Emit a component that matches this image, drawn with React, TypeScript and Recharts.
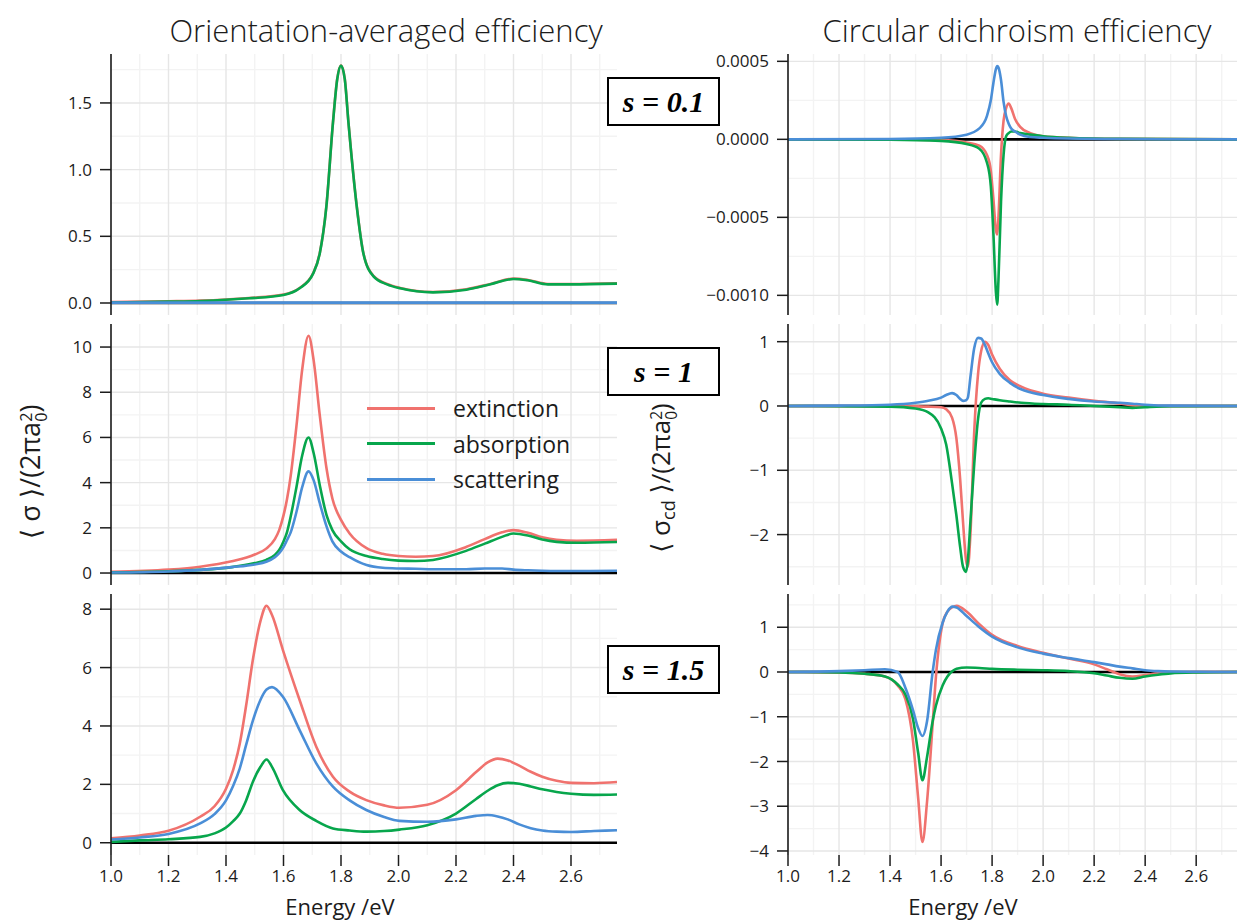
import React from "react";
import { CartesianGrid, Line, LineChart, XAxis, YAxis } from "recharts";

// series
const seriesKeys = ["ext", "abs", "sca"];
const seriesNames = ["extinction", "absorption", "scattering"];
const seriesColors = ["#F0726E", "#07A64C", "#4A8ED7"];

// x axis
const energyTicks = [1.0, 1.2, 1.4, 1.6, 1.8, 2.0, 2.2, 2.4, 2.6];
const energyMinor = [1.1, 1.3, 1.5, 1.7, 1.9, 2.1, 2.3, 2.5, 2.7];
const energyDomain = [1.0, 2.76];

// s = 0.1, orientation averaged
const aEnergy = [1.0, 1.2, 1.31, 1.48, 1.6, 1.656, 1.703, 1.726, 1.749, 1.772, 1.787, 1.8, 1.813, 1.826, 1.855, 1.878, 1.913, 1.96, 2.006, 2.12, 2.236, 2.32, 2.4, 2.45, 2.52, 2.6, 2.76];
const aExt = [0.007, 0.013, 0.018, 0.038, 0.063, 0.113, 0.223, 0.373, 0.723, 1.353, 1.683, 1.783, 1.683, 1.353, 0.723, 0.373, 0.203, 0.143, 0.113, 0.083, 0.103, 0.143, 0.183, 0.173, 0.143, 0.143, 0.148];
const aAbs = [0.004, 0.01, 0.015, 0.035, 0.06, 0.11, 0.22, 0.37, 0.72, 1.35, 1.68, 1.78, 1.68, 1.35, 0.72, 0.37, 0.2, 0.14, 0.11, 0.08, 0.1, 0.14, 0.18, 0.17, 0.14, 0.14, 0.145];
const aSca = [0.003, 0.003, 0.003, 0.003, 0.003, 0.003, 0.003, 0.003, 0.003, 0.003, 0.003, 0.003, 0.003, 0.003, 0.003, 0.003, 0.003, 0.003, 0.003, 0.003, 0.003, 0.003, 0.003, 0.003, 0.003, 0.003, 0.003];

// s = 1, orientation averaged
const bEnergy = [1.0, 1.2, 1.31, 1.42, 1.5, 1.54, 1.57, 1.585, 1.6, 1.612, 1.625, 1.645, 1.665, 1.687, 1.705, 1.726, 1.75, 1.77, 1.8, 1.83, 1.889, 1.945, 2.0, 2.06, 2.12, 2.235, 2.3, 2.36, 2.4, 2.45, 2.5, 2.55, 2.62, 2.76];
const bExt = [0.05, 0.15, 0.28, 0.52, 0.82, 1.08, 1.5, 1.9, 2.55, 3.25, 4.3, 6.5, 9.0, 10.5, 9.4, 7.0, 4.6, 3.3, 2.35, 1.75, 1.1, 0.85, 0.75, 0.72, 0.75, 1.15, 1.5, 1.8, 1.9, 1.78, 1.58, 1.47, 1.43, 1.47];
const bAbs = [0.03, 0.08, 0.14, 0.26, 0.44, 0.58, 0.8, 1.02, 1.4, 1.8, 2.5, 3.8, 5.2, 6.0, 5.3, 3.9, 2.55, 1.9, 1.4, 1.05, 0.75, 0.62, 0.55, 0.53, 0.58, 0.98, 1.3, 1.6, 1.75, 1.66, 1.48, 1.38, 1.34, 1.37];
const bSca = [0.02, 0.07, 0.14, 0.26, 0.38, 0.5, 0.7, 0.88, 1.15, 1.45, 1.8, 2.7, 3.8, 4.5, 4.1, 3.1, 2.05, 1.4, 0.95, 0.7, 0.35, 0.23, 0.2, 0.19, 0.17, 0.17, 0.2, 0.2, 0.15, 0.12, 0.1, 0.09, 0.09, 0.1];

// s = 1.5, orientation averaged
const cEnergy = [1.0, 1.1, 1.2, 1.31, 1.36, 1.4, 1.425, 1.448, 1.47, 1.494, 1.52, 1.541, 1.56, 1.598, 1.656, 1.714, 1.772, 1.83, 1.888, 1.95, 2.003, 2.1, 2.2, 2.27, 2.31, 2.345, 2.38, 2.42, 2.46, 2.5, 2.55, 2.6, 2.68, 2.76];
const cExt = [0.15, 0.25, 0.41, 0.89, 1.25, 1.85, 2.5, 3.4, 4.7, 6.3, 7.6, 8.12, 7.8, 6.6, 4.89, 3.29, 2.26, 1.75, 1.46, 1.28, 1.2, 1.3, 1.8, 2.42, 2.75, 2.88, 2.82, 2.64, 2.43, 2.26, 2.12, 2.05, 2.04, 2.08];
const cAbs = [0.03, 0.08, 0.12, 0.2, 0.32, 0.52, 0.74, 1.0, 1.45, 2.1, 2.6, 2.85, 2.6, 1.8, 1.12, 0.75, 0.49, 0.42, 0.38, 0.4, 0.45, 0.6, 1.0, 1.5, 1.78, 1.97, 2.05, 2.02, 1.93, 1.83, 1.74, 1.68, 1.64, 1.65];
const cSca = [0.11, 0.18, 0.3, 0.66, 0.98, 1.45, 1.95, 2.55, 3.35, 4.2, 4.9, 5.25, 5.33, 5.0, 3.86, 2.72, 1.92, 1.45, 1.12, 0.88, 0.75, 0.72, 0.8, 0.92, 0.95, 0.9, 0.8, 0.63, 0.5, 0.42, 0.38, 0.37, 0.4, 0.43];

// s = 0.1, circular dichroism
const aCdEnergy = [1.0, 1.4, 1.6, 1.7, 1.75, 1.78, 1.795, 1.805, 1.815, 1.82, 1.825, 1.835, 1.845, 1.855, 1.865, 1.875, 1.89, 1.91, 1.95, 2.0, 2.1, 2.3, 2.76];
const aCdExt = [0, 0, -0.000005, -0.00002, -0.00004, -0.0001, -0.0002, -0.00038, -0.00058, -0.00061, -0.0005, -0.0001, 0.00012, 0.0002, 0.00023, 0.0002, 0.00013, 0.00008, 0.00004, 0.00002, 0.00001, 0.000003, 0];
const aCdAbs = [0, -0.000002, -0.00001, -0.00003, -0.00006, -0.00015, -0.0003, -0.0006, -0.00098, -0.00106, -0.0009, -0.0004, -0.0001, 0.00002, 0.00004, 0.00005, 0.00005, 0.00004, 0.00003, 0.00002, 0.00001, 0.000003, 0];
const aCdSca = [0, 0.000002, 0.00001, 0.00003, 0.00007, 0.00015, 0.00025, 0.00036, 0.00045, 0.00047, 0.00046, 0.00038, 0.00024, 0.00015, 0.0001, 0.00007, 0.00005, 0.00003, 0.000015, 0.00001, 0.000005, 0.000002, 0];

// s = 1, circular dichroism
const bCdEnergy = [1.0, 1.2, 1.4, 1.5, 1.55, 1.6, 1.62, 1.643, 1.66, 1.675, 1.686, 1.698, 1.705, 1.715, 1.73, 1.745, 1.757, 1.772, 1.785, 1.8, 1.83, 1.87, 1.914, 2.0, 2.1, 2.2, 2.3, 2.35, 2.4, 2.5, 2.76];
const bCdExt = [0, 0, 0, -0.005, -0.01, -0.02, -0.05, -0.18, -0.5, -1.15, -1.8, -2.4, -2.5, -2.0, -0.4, 0.5, 0.85, 1.0, 0.95, 0.8, 0.58, 0.4, 0.3, 0.19, 0.13, 0.08, 0.04, 0.01, 0, 0, 0];
const bCdAbs = [0, -0.003, -0.01, -0.04, -0.1, -0.35, -0.6, -1.2, -1.7, -2.2, -2.5, -2.58, -2.4, -1.8, -0.9, -0.2, 0.05, 0.11, 0.12, 0.11, 0.09, 0.07, 0.05, 0.03, 0.02, 0, -0.02, -0.03, -0.02, -0.005, 0];
const bCdSca = [0, 0.005, 0.02, 0.05, 0.08, 0.13, 0.17, 0.2, 0.17, 0.11, 0.08, 0.09, 0.13, 0.45, 0.9, 1.06, 1.05, 0.95, 0.82, 0.68, 0.5, 0.36, 0.26, 0.17, 0.11, 0.07, 0.05, 0.035, 0.02, 0.005, 0];

// s = 1.5, circular dichroism
const cCdEnergy = [1.0, 1.2, 1.3, 1.38, 1.43, 1.46, 1.49, 1.51, 1.527, 1.545, 1.567, 1.58, 1.606, 1.625, 1.645, 1.661, 1.7, 1.75, 1.8, 1.9, 2.0, 2.1, 2.2, 2.25, 2.3, 2.35, 2.4, 2.45, 2.5, 2.6, 2.76];
const cCdExt = [0, -0.01, -0.04, -0.1, -0.3, -0.6, -1.54, -2.8, -3.8, -2.9, -1.16, -0.1, 1.09, 1.35, 1.45, 1.48, 1.35, 1.07, 0.83, 0.58, 0.43, 0.3, 0.17, 0.06, -0.05, -0.1, -0.07, -0.03, -0.01, 0, 0];
const cCdAbs = [0, -0.01, -0.04, -0.1, -0.28, -0.5, -1.05, -1.8, -2.42, -1.9, -1.1, -0.75, -0.3, -0.1, 0.02, 0.07, 0.1, 0.09, 0.07, 0.05, 0.04, 0.02, -0.03, -0.08, -0.13, -0.15, -0.1, -0.06, -0.03, -0.01, 0];
const cCdSca = [0, 0.02, 0.04, 0.06, 0, -0.35, -0.85, -1.25, -1.43, -1.1, 0, 0.5, 1.1, 1.35, 1.46, 1.44, 1.25, 1.0, 0.79, 0.55, 0.41, 0.31, 0.22, 0.17, 0.12, 0.08, 0.04, 0.02, 0.01, 0.005, 0];

// y ticks and grid
const aTicks = [0, 0.5, 1.0, 1.5];
const aMinor = [0.25, 0.75, 1.25, 1.75];
const bTicks = [0, 2, 4, 6, 8, 10];
const bMinor = [1, 3, 5, 7, 9];
const cTicks = [0, 2, 4, 6, 8];
const cMinor = [1, 3, 5, 7];
const aCdTicks = [-0.001, -0.0005, 0, 0.0005];
const aCdMinor = [-0.00075, -0.00025, 0.00025];
const bCdTicks = [-2, -1, 0, 1];
const bCdMinor = [-2.5, -1.5, -0.5, 0.5];
const cCdTicks = [-4, -3, -2, -1, 0, 1];
const cCdMinor = [-3.5, -2.5, -1.5, -0.5, 0.5, 1.5];

const sLabels = ["s = 0.1", "s = 1", "s = 1.5"];

const FONT = "'Open Sans', 'DejaVu Sans', sans-serif";
const INK = "#1c1c1c";

const rows = (energy: number[], ext: number[], abs: number[], sca: number[]) =>
  energy.map((e, i) => ({ e, ext: ext[i], abs: abs[i], sca: sca[i], z: 0 }));

const fmt = (digits: number) => (v: number) => {
  const s = Math.abs(v).toFixed(digits);
  return v < 0 && Number(s) !== 0 ? "\u2212" + s : s;
};

type PanelProps = {
  left: number;
  top: number;
  axisWidth: number;
  plotWidth: number;
  data: ReturnType<typeof rows>;
  domain: [number, number];
  ticks: number[];
  minor: number[];
  digits: number;
  showX?: boolean;
};

const PAD_TOP = 12;

function Panel({ left, top, axisWidth, plotWidth, data, domain, ticks, minor, digits, showX }: PanelProps) {
  const plotHeight = 261;
  const xh = showX ? 40 : 0;
  const tickStyle = { fontSize: 17, fontFamily: FONT, fill: INK };
  return (
    <div style={{ position: "absolute", left, top: top - PAD_TOP }}>
      <LineChart
        width={axisWidth + plotWidth + 2}
        height={plotHeight + xh + PAD_TOP}
        data={data}
        margin={{ top: PAD_TOP, right: 2, bottom: 0, left: 0 }}
      >
        <CartesianGrid stroke="#F3F3F3" strokeWidth={1.4} horizontalValues={minor} verticalValues={energyMinor} />
        <CartesianGrid stroke="#E6E6E6" strokeWidth={1.4} horizontalValues={ticks} verticalValues={energyTicks} />
        <XAxis
          dataKey="e"
          type="number"
          domain={energyDomain}
          ticks={energyTicks}
          allowDataOverflow
          hide={!showX}
          height={xh}
          axisLine={false}
          tickLine={{ stroke: INK, strokeWidth: 1.5 }}
          tickSize={11}
          tickMargin={4}
          tick={tickStyle}
          tickFormatter={fmt(1)}
          interval={0}
        />
        <YAxis
          type="number"
          domain={domain}
          ticks={ticks}
          allowDataOverflow
          width={axisWidth}
          axisLine={{ stroke: INK, strokeWidth: 1.6 }}
          tickLine={{ stroke: INK, strokeWidth: 1.5 }}
          tickSize={11}
          tickMargin={8}
          tick={tickStyle}
          tickFormatter={fmt(digits)}
          interval={0}
        />
        <Line dataKey="z" stroke="#000" strokeWidth={2.6} dot={false} isAnimationActive={false} />
        {seriesKeys.map((k, i) => (
          <Line
            key={k}
            type="monotone"
            dataKey={k}
            stroke={seriesColors[i]}
            strokeWidth={2.6}
            dot={false}
            isAnimationActive={false}
          />
        ))}
      </LineChart>
    </div>
  );
}

function StackedA0() {
  return (
    <span
      style={{
        display: "inline-block",
        fontSize: "0.6em",
        lineHeight: 0.95,
        verticalAlign: "-0.45em",
        textAlign: "center",
      }}
    >
      2
      <br />0
    </span>
  );
}

export default function App() {
  const tops = [54, 324, 594];
  const boxTops = [77, 347, 645];
  return (
    <div
      style={{
        position: "absolute",
        left: 0,
        top: 0,
        width: 1239,
        height: 921,
        overflow: "hidden",
        background: "#fff",
        fontFamily: FONT,
        color: INK,
      }}
    >
      <div style={{ position: "absolute", left: 386, top: 30, transform: "translate(-50%,-50%)", fontSize: 31, fontWeight: 300, whiteSpace: "nowrap" }}>
        Orientation-averaged efficiency
      </div>
      <div style={{ position: "absolute", left: 1017, top: 30, transform: "translate(-50%,-50%)", fontSize: 31, fontWeight: 300, whiteSpace: "nowrap" }}>
        Circular dichroism efficiency
      </div>

      <Panel left={0} top={tops[0]} axisWidth={111} plotWidth={506} data={rows(aEnergy, aExt, aAbs, aSca)} domain={[-0.09, 1.867]} ticks={aTicks} minor={aMinor} digits={1} />
      <Panel left={0} top={tops[1]} axisWidth={111} plotWidth={506} data={rows(bEnergy, bExt, bAbs, bSca)} domain={[-0.53, 11.02]} ticks={bTicks} minor={bMinor} digits={0} />
      <Panel left={0} top={tops[2]} axisWidth={111} plotWidth={506} data={rows(cEnergy, cExt, cAbs, cSca)} domain={[-0.42, 8.52]} ticks={cTicks} minor={cMinor} digits={0} showX />

      <Panel left={681} top={tops[0]} axisWidth={107} plotWidth={449} data={rows(aCdEnergy, aCdExt, aCdAbs, aCdSca)} domain={[-0.001126, 0.000547]} ticks={aCdTicks} minor={aCdMinor} digits={4} />
      <Panel left={681} top={tops[1]} axisWidth={107} plotWidth={449} data={rows(bCdEnergy, bCdExt, bCdAbs, bCdSca)} domain={[-2.784, 1.275]} ticks={bCdTicks} minor={bCdMinor} digits={0} />
      <Panel left={681} top={tops[2]} axisWidth={107} plotWidth={449} data={rows(cCdEnergy, cCdExt, cCdAbs, cCdSca)} domain={[-4.09, 1.743]} ticks={cCdTicks} minor={cCdMinor} digits={0} showX />

      {sLabels.map((s, i) => (
        <div
          key={s}
          style={{
            position: "absolute",
            left: 607,
            top: boxTops[i],
            width: 109,
            height: 45,
            border: "2.5px solid #000",
            background: "#fff",
            display: "flex",
            alignItems: "center",
            justifyContent: "center",
            fontFamily: "'Liberation Serif', 'DejaVu Serif', serif",
            fontWeight: 700,
            fontStyle: "italic",
            fontSize: 30,
            color: "#000",
            whiteSpace: "nowrap",
          }}
        >
          {s}
        </div>
      ))}

      {seriesNames.map((n, i) => (
        <div key={n} style={{ position: "absolute", left: 367, top: 408 + i * 35.5 - 16, height: 32, display: "flex", alignItems: "center" }}>
          <div style={{ width: 68, height: 3, background: seriesColors[i] }} />
          <div style={{ marginLeft: 18, fontSize: 23, whiteSpace: "nowrap" }}>{n}</div>
        </div>
      ))}

      <div style={{ position: "absolute", left: 30, top: 472, transform: "translate(-50%,-50%) rotate(-90deg)", fontSize: 27, whiteSpace: "nowrap" }}>
        {"\u27E8 \u03C3 \u27E9/(2\u03C0a"}
        <StackedA0 />
        {")"}
      </div>
      <div style={{ position: "absolute", left: 661, top: 478, transform: "translate(-50%,-50%) rotate(-90deg)", fontSize: 26, whiteSpace: "nowrap" }}>
        {"\u27E8 \u03C3"}
        <span style={{ fontSize: "0.7em", verticalAlign: "-0.25em" }}>cd</span>
        {" \u27E9/(2\u03C0a"}
        <StackedA0 />
        {")"}
      </div>

      <div style={{ position: "absolute", left: 340, top: 906, transform: "translate(-50%,-50%)", fontSize: 22, whiteSpace: "nowrap" }}>
        Energy /eV
      </div>
      <div style={{ position: "absolute", left: 963, top: 906, transform: "translate(-50%,-50%)", fontSize: 22, whiteSpace: "nowrap" }}>
        Energy /eV
      </div>
    </div>
  );
}
